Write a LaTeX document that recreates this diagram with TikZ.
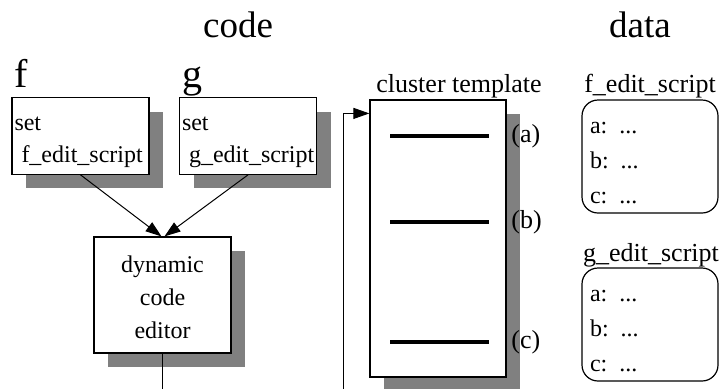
\documentclass[tikz,border=0pt]{standalone}
\usepackage{fontspec}
\setmainfont{Liberation Serif}
\usetikzlibrary{shadows,arrows.meta}
\begin{document}
\begin{tikzpicture}[x=0.5pt,y=-0.5pt,
    shadowbox/.style={draw,fill=white,line width=0.6pt,drop shadow={shadow xshift=7pt,shadow yshift=-7pt,fill=gray,opacity=1}},
    setbox/.style={shadowbox,minimum width=68.5pt,minimum height=36pt,text width=66pt,inner xsep=1.25pt,align=left,font=\fontsize{12}{16}\selectfont},
    databox/.style={draw,rounded corners=8pt,line width=0.6pt,minimum width=68pt,minimum height=56.5pt,text width=60pt,inner xsep=4pt,align=left,font=\fontsize{12}{17.5}\selectfont},
    title/.style={anchor=base,inner sep=0pt,font=\fontsize{18.5}{22}\selectfont},
    fname/.style={anchor=base west,inner sep=0pt,font=\fontsize{20}{22}\selectfont},
    lbl/.style={font=\fontsize{13}{15}\selectfont},
    bar/.style={line width=2.2pt},
    arr/.style={-{Triangle[length=8pt,width=5.5pt]},line width=0.5pt}]
    \useasboundingbox (0,0) rectangle (722,388);
    \clip (0,0) rectangle (722,388);
    \node[title] (code) at (238,37) {code};
    \node[title] (data) at (640,37) {data};
    \node[fname] (fname) at (14,87) {f};
    \node[fname] (gname) at (182,87) {g};
    \node[setbox] (fset) at (80.5,136) {\rule{0pt}{13pt}set\\\mbox{\hspace{3.5pt}f\_edit\_script}};
    \node[setbox] (gset) at (248,136) {\rule{0pt}{13pt}set\\\mbox{\hspace{3.5pt}g\_edit\_script}};
    \node[shadowbox,minimum width=68.5pt,minimum height=58pt,align=center,font=\fontsize{12}{16.5}\selectfont] (editor) at (162.5,295) {\rule{0pt}{11pt}dynamic\\code\\editor};
    \node[shadowbox,minimum width=68pt,minimum height=138.5pt] (cluster) at (438,238.5) {};
    \node[lbl,anchor=base] (ctitle) at (459,92) {cluster template};
    \foreach \y/\t in {136/a,222/b,342/c}{
        \draw[bar] (390,\y) -- (489,\y);
        \node[lbl,anchor=west,inner sep=0pt] (lab\t) at (511,\y) {(\t)};
    }
    \node[lbl,anchor=base] (fdname) at (650,92) {f\_edit\_script};
    \node[databox] (fdata) at (650,156.5) {\rule{0pt}{12.5pt}a: ...\\b: ...\\c: ...};
    \node[lbl,anchor=base] (gdname) at (651,261) {g\_edit\_script};
    \node[databox] (gdata) at (650,324.5) {\rule{0pt}{12.5pt}a: ...\\b: ...\\c: ...};
    \draw[arr] (fset.south) -- ([xshift=-0.5pt]editor.north);
    \draw[arr] (gset.south) -- ([xshift=1pt]editor.north);
    \coordinate (loop) at (343,400);
    \draw[arr] (editor.south) |- (loop) |- ([yshift=-7pt]cluster.north west);
\end{tikzpicture}
\end{document}
